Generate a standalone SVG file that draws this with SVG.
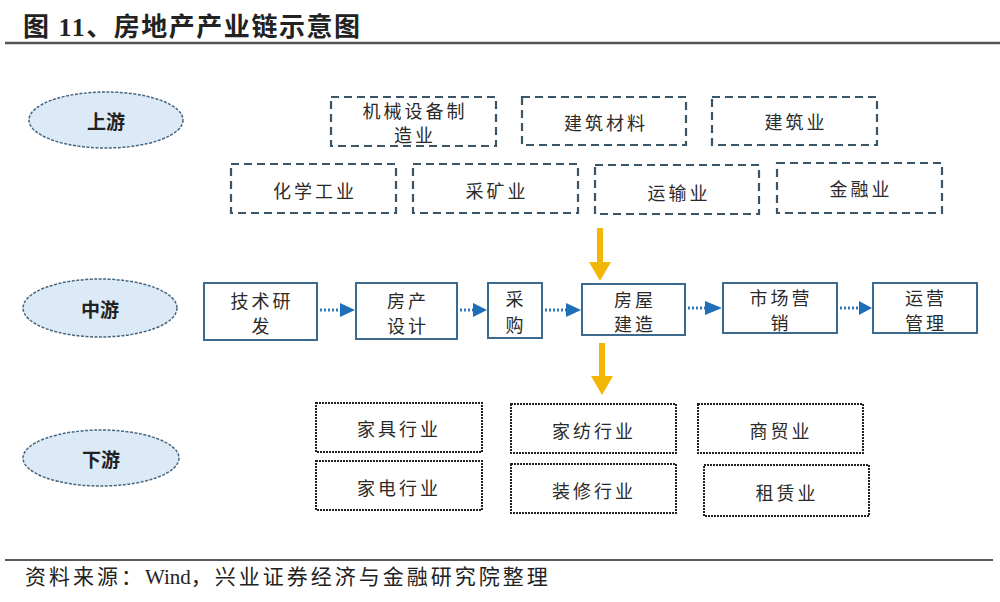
<svg xmlns="http://www.w3.org/2000/svg" width="1000" height="602" viewBox="0 0 1000 602">
<style>
  .t { font-family: "Liberation Serif", "Noto Sans CJK SC", serif; fill: #222; }
  .lbl { font-family: "Noto Sans CJK SC", sans-serif; font-size: 18px; letter-spacing: 3px; fill: #2a2a2a; text-anchor: middle; dominant-baseline: central; }
  .ell { fill: #dce9f6; stroke: #46677f; stroke-width: 1.5; stroke-dasharray: 3 1.5; }
  .elbl { font-family: "Noto Sans CJK SC", sans-serif; font-size: 19px; font-weight: bold; fill: #222; text-anchor: middle; dominant-baseline: central; }
  .up { fill: #fff; stroke: #3a5468; stroke-width: 2.2; stroke-dasharray: 8 5; }
  .mid { fill: #fff; stroke: #3b6a8e; stroke-width: 2; }
  .down { fill: #fff; stroke: #222; stroke-width: 2; stroke-dasharray: 2 1; }
  .dot { stroke: #2e78b8; stroke-width: 3; stroke-dasharray: 2 2; fill: none; }
  .head { fill: #1f6eb8; }
  .yel { fill: #f2b705; }
</style>

<g id="title">
  <text class="t" x="23" y="36" font-size="26" font-weight="bold" textLength="337" lengthAdjust="spacing">图 11、房地产产业链示意图</text>
  <line x1="5" y1="43" x2="1000" y2="43" stroke="#555" stroke-width="2.5"/>
</g>

<g id="stage-upstream">
  <ellipse class="ell" cx="106" cy="120" rx="77" ry="28"/>
  <text class="elbl" x="106" y="120">上游</text>
</g>
<g id="stage-midstream">
  <ellipse class="ell" cx="100" cy="308" rx="77" ry="29"/>
  <text class="elbl" x="100" y="308">中游</text>
</g>
<g id="stage-downstream">
  <ellipse class="ell" cx="101" cy="458" rx="78" ry="28"/>
  <text class="elbl" x="101" y="458">下游</text>
</g>

<!-- upstream -->
<g id="up-machinery">
  <rect class="up" x="331" y="97" width="165" height="49"/>
  <text class="lbl" x="415" y="110">机械设备制</text>
  <text class="lbl" x="415" y="134">造业</text>
</g>
<g id="up-materials">
  <rect class="up" x="522" y="97" width="164" height="48"/>
  <text class="lbl" x="606" y="122">建筑材料</text>
</g>
<g id="up-construction">
  <rect class="up" x="712" y="97" width="165" height="48"/>
  <text class="lbl" x="796" y="121">建筑业</text>
</g>
<g id="up-chemical">
  <rect class="up" x="231" y="164" width="165" height="49"/>
  <text class="lbl" x="315" y="190">化学工业</text>
</g>
<g id="up-mining">
  <rect class="up" x="413" y="164" width="165" height="49"/>
  <text class="lbl" x="497" y="190">采矿业</text>
</g>
<g id="up-transport">
  <rect class="up" x="595" y="165" width="164" height="49"/>
  <text class="lbl" x="679" y="192">运输业</text>
</g>
<g id="up-finance">
  <rect class="up" x="777" y="163" width="165" height="50"/>
  <text class="lbl" x="861" y="188">金融业</text>
</g>

<!-- midstream -->
<g id="mid-rd">
  <rect class="mid" x="204" y="283" width="113" height="57"/>
  <text class="lbl" x="262" y="300">技术研</text>
  <text class="lbl" x="262" y="325">发</text>
</g>
<g id="mid-design">
  <rect class="mid" x="356" y="283" width="101" height="56"/>
  <text class="lbl" x="408" y="300">房产</text>
  <text class="lbl" x="408" y="325">设计</text>
</g>
<g id="mid-purchase">
  <rect class="mid" x="488" y="283" width="54" height="55"/>
  <text class="lbl" x="516" y="298">采</text>
  <text class="lbl" x="516" y="324">购</text>
</g>
<g id="mid-build">
  <rect class="mid" x="582" y="284" width="103" height="51"/>
  <text class="lbl" x="635" y="299">房屋</text>
  <text class="lbl" x="635" y="323">建造</text>
</g>
<g id="mid-marketing">
  <rect class="mid" x="723" y="283" width="114" height="50"/>
  <text class="lbl" x="781" y="297">市场营</text>
  <text class="lbl" x="781" y="322">销</text>
</g>
<g id="mid-operation">
  <rect class="mid" x="873" y="283" width="104" height="50"/>
  <text class="lbl" x="926" y="297">运营</text>
  <text class="lbl" x="926" y="322">管理</text>
</g>

<!-- downstream -->
<g id="down-furniture">
  <rect class="down" x="316" y="403" width="166" height="49"/>
  <text class="lbl" x="399" y="428">家具行业</text>
</g>
<g id="down-appliance">
  <rect class="down" x="316" y="461" width="166" height="49"/>
  <text class="lbl" x="399" y="487">家电行业</text>
</g>
<g id="down-textile">
  <rect class="down" x="511" y="404" width="165" height="49"/>
  <text class="lbl" x="594" y="430">家纺行业</text>
</g>
<g id="down-decoration">
  <rect class="down" x="511" y="464" width="165" height="49"/>
  <text class="lbl" x="594" y="490">装修行业</text>
</g>
<g id="down-trade">
  <rect class="down" x="698" y="404" width="165" height="49"/>
  <text class="lbl" x="781" y="430">商贸业</text>
</g>
<g id="down-leasing">
  <rect class="down" x="704" y="465" width="165" height="51"/>
  <text class="lbl" x="787" y="492">租赁业</text>
</g>

<g id="connectors">
  <!-- yellow arrows -->
  <polygon class="yel" points="597,228 603,228 603,262 611,262 600,281 589,262 597,262"/>
  <polygon class="yel" points="599,343 605,343 605,376 613,376 602,395 591,376 599,376"/>
  <!-- blue dotted arrows -->
  <line class="dot" x1="320" y1="310" x2="341" y2="310"/>
  <polygon class="head" points="340,303 355,310 340,317"/>
  <line class="dot" x1="460" y1="310" x2="474" y2="310"/>
  <polygon class="head" points="473,303 487,310 473,317"/>
  <line class="dot" x1="545" y1="310" x2="567" y2="310"/>
  <polygon class="head" points="566,303 581,310 566,317"/>
  <line class="dot" x1="688" y1="308" x2="706" y2="308"/>
  <polygon class="head" points="705,301 722,308 705,315"/>
  <line class="dot" x1="840" y1="308" x2="860" y2="308"/>
  <polygon class="head" points="859,301 872,308 859,315"/>
</g>

<g id="footer">
  <line x1="5" y1="560" x2="993" y2="560" stroke="#222" stroke-width="1.5"/>
  <text class="t" x="25" y="584" font-size="21"><tspan letter-spacing="3">资料来源：</tspan><tspan letter-spacing="0">Wind</tspan><tspan letter-spacing="3">，兴业证券经济与金融研究院整理</tspan></text>
</g>
</svg>
